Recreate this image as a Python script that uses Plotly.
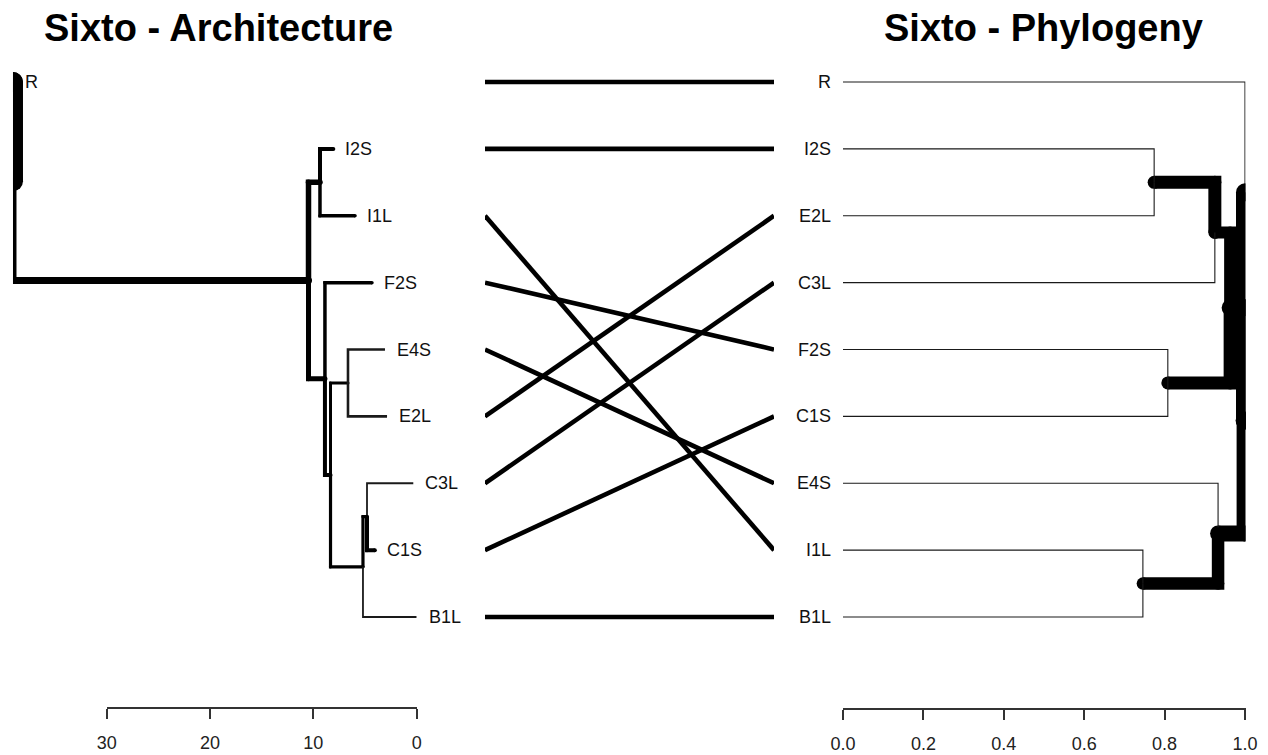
import plotly.graph_objects as go

# ---------------- data ----------------
# Left dendrogram (architecture): leaf order top to bottom and leaf heights
arch_leaves = ["R", "I2S", "I1L", "F2S", "E4S", "E2L", "C3L", "C1S", "B1L"]
arch_leaf_heights = [39.07, 8.07, 5.97, 4.33, 3.07, 2.87, 0.33, 4.05, 0.0]
# internal nodes: name, first child, second child, merge height
arch_nodes = ["root", "a1", "a2", "a3", "a4", "a5", "a6", "a7"]
arch_first = ["R", "a2", "I2S", "F2S", "a5", "E4S", "a7", "C3L"]
arch_second = ["a1", "a3", "I1L", "a4", "a6", "E2L", "B1L", "C1S"]
arch_heights = [39.07, 10.47, 9.36, 8.88, 8.34, 6.65, 5.20, 4.81]

# Right dendrogram (phylogeny)
phylo_leaves = ["R", "I2S", "E2L", "C3L", "F2S", "C1S", "E4S", "I1L", "B1L"]
phylo_leaf_heights = [0.0, 0.0, 0.0, 0.0, 0.0, 0.0, 0.0, 0.0, 0.0]
phylo_nodes = ["root", "p1", "p2", "p3", "p4", "p5", "p6", "p7"]
phylo_first = ["R", "p2", "p3", "p4", "I2S", "F2S", "E4S", "I1L"]
phylo_second = ["p1", "p6", "p5", "C3L", "E2L", "C1S", "p7", "B1L"]
phylo_heights = [1.0, 0.999, 0.963, 0.925, 0.774, 0.808, 0.933, 0.746]
# midpoint attribute stored on the phylogeny root
phylo_stored_midpoints = {"root": 1.65}

arch_ticks = [30, 20, 10, 0]
phylo_ticks = [0.0, 0.2, 0.4, 0.6, 0.8, 1.0]
phylo_tick_labels = ["0.0", "0.2", "0.4", "0.6", "0.8", "1.0"]

titles = ["Sixto - Architecture", "Sixto - Phylogeny"]

# ---------------- styles ----------------
arch_edge_width = {"R": 20, "a1": 7, "a2": 5.5, "a3": 5, "I2S": 4, "I1L": 3.5,
                   "F2S": 3.5, "a4": 4, "a5": 3, "E4S": 2.6, "E2L": 2.6,
                   "a6": 3.2, "a7": 3.2, "C3L": 1.8, "C1S": 4, "B1L": 1.8}
phylo_edge_width = {"p1": 18, "p2": 17, "p3": 12, "p4": 13, "p5": 13,
                    "p6": 16, "p7": 12.5}
THIN = 1.1

W, H = 1268, 755
ROW0, ROW_STEP = 82, 66.875        # pixel row of first leaf, spacing
AXIS_Y = 708                       # pixel row of the scale bars
ARCH_ZERO_PX, ARCH_PX_PER_UNIT = 416.7, 10.333
LINK_X0, LINK_X1 = 485, 774
PHY_X0, PHY_X1, PHY_PX_PER_UNIT = 843, 1245.5, 402.0
FONT = "Liberation Sans, Arial, Helvetica, sans-serif"


def build_tree(leaves, leaf_heights, nodes, first, second, heights, stored=None):
    stored = stored or {}
    kids = {n: (a, b) for n, a, b in zip(nodes, first, second)}
    hgt = dict(zip(leaves, leaf_heights))
    hgt.update(dict(zip(nodes, heights)))
    members, mid = {}, {}

    def calc(n):
        if n not in kids:
            members[n], mid[n] = 1, 0.0
            return
        a, b = kids[n]
        calc(a)
        calc(b)
        members[n] = members[a] + members[b]
        mid[n] = stored.get(n, (mid[a] + members[a] + mid[b]) / 2)

    calc("root")
    edges = []

    def place(n, x1):
        top = x1 + mid[n]
        if n in kids:
            a, b = kids[n]
            for child, start in ((a, x1), (b, x1 + members[a])):
                cpos = start + mid[child]
                edges.append((child, [hgt[n], hgt[n], hgt[child]], [top, cpos, cpos]))
                place(child, start)

    place("root", 1)
    return edges, hgt


def edge_traces(edges, widths, xaxis):
    out = []
    for child, xs, ys in edges:
        w = widths.get(child, THIN)
        thick = w >= 3
        out.append(go.Scatter(
            x=xs, y=ys, xaxis=xaxis, yaxis="y",
            mode="lines+markers" if thick else "lines",
            line=dict(color="black" if thick else "#1a1a1a", width=w),
            marker=dict(size=w, color="black", line=dict(width=0)),
            hoverinfo="skip", showlegend=False))
    return out


arch_edges, arch_h = build_tree(arch_leaves, arch_leaf_heights, arch_nodes,
                                arch_first, arch_second, arch_heights)
phylo_edges, phylo_h = build_tree(phylo_leaves, phylo_leaf_heights, phylo_nodes,
                                  phylo_first, phylo_second, phylo_heights,
                                  phylo_stored_midpoints)

fig = go.Figure()
# anchor trace for the architecture scale bar (drawn first, underneath)
fig.add_trace(go.Scatter(x=[], y=[], xaxis="x4", yaxis="y", showlegend=False))

for t in edge_traces(arch_edges, arch_edge_width, "x"):
    fig.add_trace(t)
for t in edge_traces(phylo_edges, phylo_edge_width, "x3"):
    fig.add_trace(t)

# connecting lines between matching labels
for lab in arch_leaves:
    yl = arch_leaves.index(lab) + 1
    yr = phylo_leaves.index(lab) + 1
    fig.add_trace(go.Scatter(x=[0, 1], y=[yl, yr], xaxis="x2", yaxis="y",
                             mode="lines", line=dict(color="black", width=4.6),
                             hoverinfo="skip", showlegend=False))

# leaf labels
ann = []
for i, lab in enumerate(arch_leaves):
    ann.append(dict(x=arch_h[lab], y=i + 1, xref="x", yref="y", text=lab,
                    xanchor="left", yanchor="middle", xshift=10, showarrow=False,
                    font=dict(family=FONT, size=18, color="#111")))
for i, lab in enumerate(phylo_leaves):
    ann.append(dict(x=phylo_h[lab], y=i + 1, xref="x3", yref="y", text=lab,
                    xanchor="right", yanchor="middle", xshift=-10, showarrow=False,
                    font=dict(family=FONT, size=18, color="#111")))
for txt, cx in zip(titles, [218.5, 1043.5]):
    ann.append(dict(x=cx / W, y=1 - 28 / H, xref="paper", yref="paper",
                    text="<b>%s</b>" % txt, showarrow=False,
                    xanchor="center", yanchor="middle",
                    font=dict(family=FONT, size=38, color="black")))

# axis geometry
y_top_val = 1 - ROW0 / ROW_STEP
y_bot_val = 1 + (AXIS_Y - ROW0) / ROW_STEP
y_dom_bottom = 1 - AXIS_Y / H
root_h = arch_h["root"]
arch_left_px = ARCH_ZERO_PX - root_h * ARCH_PX_PER_UNIT
arch_bar_left_px = ARCH_ZERO_PX - arch_ticks[0] * ARCH_PX_PER_UNIT

axis_style = dict(showline=True, linecolor="#333", linewidth=1.5, ticks="outside",
                  ticklen=10, tickwidth=1.5, tickcolor="#333", showgrid=False,
                  zeroline=False, fixedrange=True, automargin=False,
                  ticklabelstandoff=9,
                  tickfont=dict(family=FONT, size=18, color="#222"))
hidden = dict(visible=False, anchor="y", automargin=False, fixedrange=True)

fig.update_layout(
    width=W, height=H, margin=dict(l=0, r=0, t=0, b=0, autoexpand=False),
    paper_bgcolor="white", plot_bgcolor="rgba(0,0,0,0)", showlegend=False,
    annotations=ann,
    yaxis=dict(domain=[y_dom_bottom, 1], range=[y_bot_val, y_top_val],
               visible=False, fixedrange=True, automargin=False),
    xaxis=dict(domain=[arch_left_px / W, ARCH_ZERO_PX / W], range=[root_h, 0],
               **hidden),
    xaxis2=dict(domain=[LINK_X0 / W, LINK_X1 / W], range=[0, 1], **hidden),
    xaxis3=dict(domain=[PHY_X0 / W, PHY_X1 / W],
                range=[0, (PHY_X1 - PHY_X0) / PHY_PX_PER_UNIT], anchor="y",
                tickmode="array", tickvals=phylo_ticks, ticktext=phylo_tick_labels,
                **axis_style),
    xaxis4=dict(domain=[arch_bar_left_px / W, ARCH_ZERO_PX / W],
                range=[arch_ticks[0], 0], anchor="free", position=y_dom_bottom,
                tickmode="array", tickvals=arch_ticks,
                ticktext=[str(t) for t in arch_ticks], **axis_style),
)

fig.write_html("out.html")
